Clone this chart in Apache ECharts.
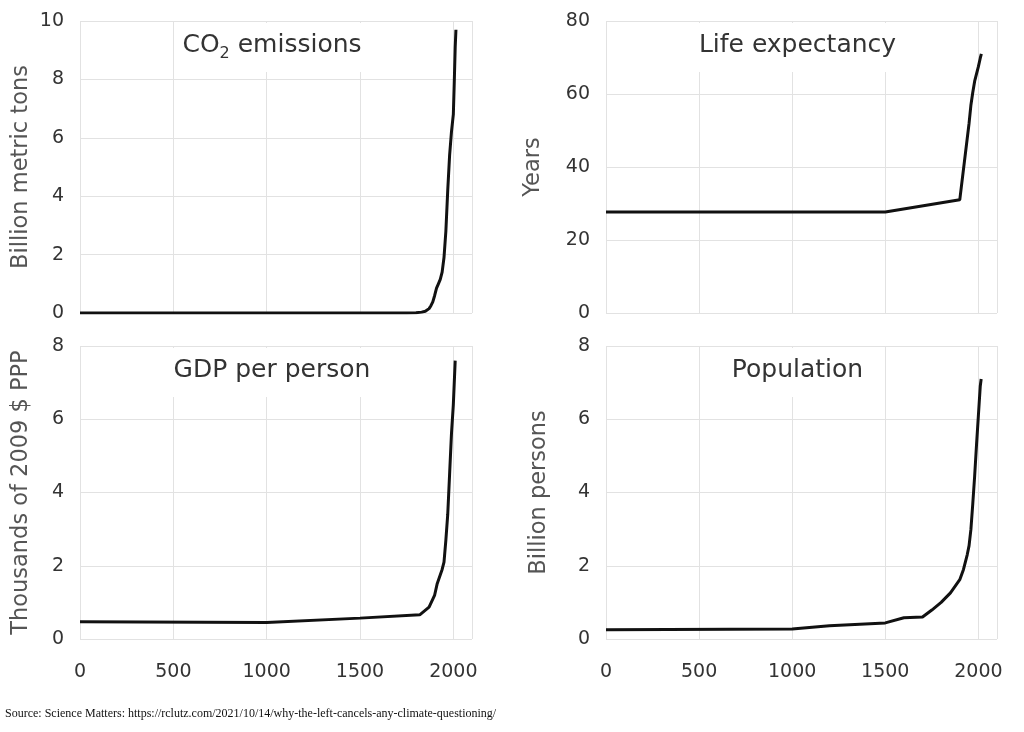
<!DOCTYPE html>
<html>
<head>
<meta charset="utf-8">
<script src="https://cdn.jsdelivr.net/npm/echarts@6/dist/echarts.min.js"></script>
<style>
html,body{margin:0;padding:0;background:#fff;}
#chart{width:1024px;height:732px;}
</style>
</head>
<body>
<div id="chart"></div>
<script>
// ---- data ----
const co2Years  = [0, 1750, 1800, 1830, 1850, 1870, 1880, 1890, 1900, 1910, 1920, 1930, 1940, 1950, 1960, 1970, 1980, 1990, 2000, 2005, 2010, 2014];
const co2Values = [0, 0, 0.01, 0.03, 0.06, 0.15, 0.25, 0.38, 0.6, 0.85, 1.0, 1.15, 1.4, 1.9, 2.8, 4.2, 5.4, 6.2, 6.8, 7.9, 9.1, 9.7];

const lifeYears  = [0, 1500, 1900, 1950, 1960, 1970, 1980, 1990, 2000, 2010, 2016];
const lifeValues = [27.7, 27.7, 31, 52, 57, 60.5, 63.5, 65.5, 67.5, 69.8, 71];

const gdpYears  = [0, 1000, 1500, 1820, 1870, 1900, 1913, 1940, 1950, 1960, 1970, 1980, 1990, 2000, 2010];
const gdpValues = [0.47, 0.45, 0.57, 0.66, 0.87, 1.2, 1.5, 1.9, 2.1, 2.7, 3.4, 4.5, 5.6, 6.4, 7.6];

const popYears  = [0, 1000, 1200, 1500, 1600, 1700, 1750, 1800, 1850, 1900, 1920, 1940, 1950, 1960, 1970, 1980, 1990, 2000, 2010, 2015];
const popValues = [0.25, 0.27, 0.36, 0.44, 0.58, 0.6, 0.79, 1.0, 1.26, 1.62, 1.9, 2.3, 2.55, 3.0, 3.7, 4.45, 5.3, 6.1, 6.9, 7.1];

const panelTitles = ['CO{sub|2} emissions', 'Life expectancy', 'GDP per person', 'Population'];
const yNames = ['Billion metric tons', 'Years', 'Thousands of 2009 $ PPP', 'Billion persons'];
const yMax = [10, 80, 8, 8];
const yInterval = [2, 20, 2, 2];
const xLastTick = 2000;
const sourceText = 'Source: Science Matters: https://rclutz.com/2021/10/14/why-the-left-cancels-any-climate-questioning/';

// ---- layout ----
const FONT = '"DejaVu Sans", sans-serif';
const grids = [
  {left: 80, top: 21, width: 392, height: 292},
  {left: 606, top: 21, width: 391, height: 292},
  {left: 80, top: 346, width: 392, height: 293},
  {left: 606, top: 346, width: 391, height: 293}
];
const nameGaps = [47, 61, 47, 55];
const gridColor = '#e2e2e2';

function zip(xs, ys) { return xs.map((x, i) => [x, ys[i]]); }
const seriesData = [zip(co2Years, co2Values), zip(lifeYears, lifeValues), zip(gdpYears, gdpValues), zip(popYears, popValues)];

const xAxes = grids.map((g, i) => ({
  type: 'value', gridIndex: i, min: 0, max: 2100, interval: 500,
  axisLine: {show: false}, axisTick: {show: false},
  splitLine: {show: true, lineStyle: {color: gridColor, width: 1}},
  axisLabel: {show: i >= 2, color: '#333', fontSize: 19, fontFamily: FONT, margin: 24,
    formatter: v => (v > xLastTick ? '' : String(v))}
}));
const yAxes = grids.map((g, i) => ({
  type: 'value', gridIndex: i, min: 0, max: yMax[i], interval: yInterval[i],
  name: yNames[i], nameLocation: 'middle', nameGap: nameGaps[i],
  nameTextStyle: {color: '#555', fontSize: 22.5, fontFamily: FONT},
  axisLine: {show: false}, axisTick: {show: false},
  splitLine: {show: true, lineStyle: {color: gridColor, width: 1}},
  axisLabel: {color: '#333', fontSize: 19, fontFamily: FONT, margin: 16}
}));
const series = seriesData.map((d, i) => ({
  type: 'line', xAxisIndex: i, yAxisIndex: i, data: d, showSymbol: false,
  lineStyle: {color: '#111', width: 3}, silent: true, z: 5
}));
const titleGraphics = grids.map((g, i) => ({
  type: 'text', x: g.left + g.width / 2 - 4, y: g.top + 26.5, z: 100,
  style: {
    text: panelTitles[i], align: 'center', verticalAlign: 'middle',
    fill: '#333', font: '25px ' + FONT, lineHeight: 34,
    backgroundColor: '#fff', padding: [5, 4, 10, 4],
    rich: {sub: {fontSize: 16, lineHeight: 16, verticalAlign: 'bottom', fill: '#333', fontFamily: FONT}}
  }
}));
titleGraphics.push({
  type: 'text', x: 5, y: 714, z: 100,
  style: {text: sourceText, align: 'left', verticalAlign: 'middle', fill: '#111', font: '12px "Liberation Serif", serif'}
});

const chart = echarts.init(document.getElementById('chart'), null, {renderer: 'canvas'});
chart.setOption({
  animation: false,
  backgroundColor: '#fff',
  grid: grids,
  xAxis: xAxes,
  yAxis: yAxes,
  series: series,
  graphic: titleGraphics
});
</script>
</body>
</html>
